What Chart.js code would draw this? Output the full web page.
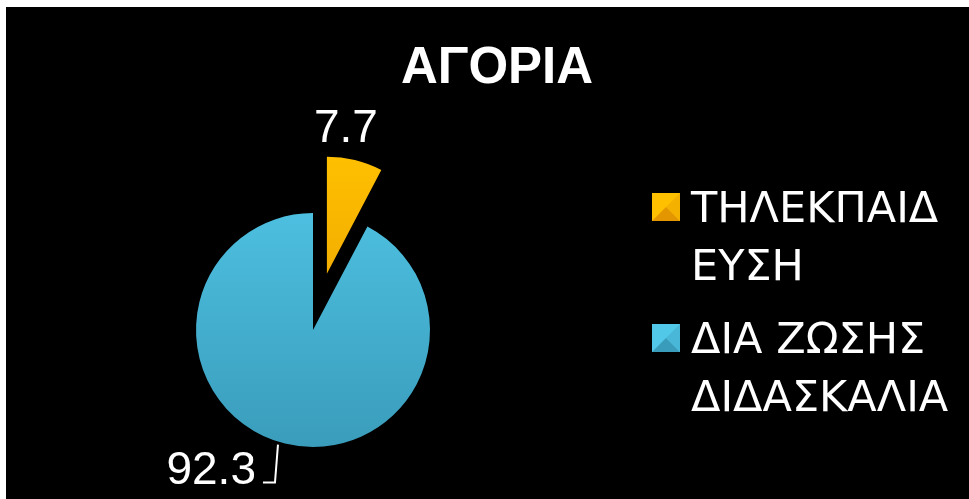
<!DOCTYPE html>
<html>
<head>
<meta charset="utf-8">
<script src="https://cdn.jsdelivr.net/npm/chart.js@4.4.1/dist/chart.umd.min.js"></script>
<style>
html, body { margin: 0; padding: 0; background: #fff; }
.frame { position: absolute; left: 6px; top: 7px; width: 963px; height: 492px; background: #000; }
</style>
</head>
<body>
<div class="frame"><canvas id="pieChart" style="width:963px;height:492px"></canvas></div>
<script>
// Chart data
const chartTitle = 'ΑΓΟΡΙΑ';
const categories = ['ΤΗΛΕΚΠΑΙΔΕΥΣΗ', 'ΔΙΑ ΖΩΣΗΣ ΔΙΔΑΣΚΑΛΙΑ'];
const values = [7.7, 92.3];
const valueLabels = ['7.7', '92.3'];

// Styles
const sliceColors = [['#FFC000', '#E39600'], ['#52C8E9', '#3A9CBB']];
const EXPLODE = 58;
const labelOffsets = [
    { dx: -9, dy: -18, align: 'center', leader: null },
    { dx: -29, dy: 40, align: 'right', leader: [[-7, 1], [-10, 39], [-22, 39]] }
];

// Push the first slice out from the centre
const explodePlugin = {
    id: 'explode',
    afterDatasetsUpdate(chart) {
        const arc = chart.getDatasetMeta(0).data[0];
        const mid = (arc.startAngle + arc.endAngle) / 2;
        arc.x += Math.cos(mid) * EXPLODE;
        arc.y += Math.sin(mid) * EXPLODE;
    }
};

function wrapText(ctx, text, maxWidth) {
    const lines = [];
    let line = '';
    text.split(' ').forEach(word => {
        const test = line ? line + ' ' + word : word;
        if (ctx.measureText(test).width <= maxWidth) {
            line = test;
            return;
        }
        if (line) lines.push(line);
        line = '';
        for (const ch of word) {
            if (ctx.measureText(line + ch).width > maxWidth && line) {
                lines.push(line);
                line = ch;
            } else {
                line += ch;
            }
        }
    });
    if (line) lines.push(line);
    return lines;
}

// Title, value labels and legend
const textPlugin = {
    id: 'texts',
    afterDraw(chart) {
        const ctx = chart.ctx;
        ctx.save();
        ctx.fillStyle = '#fff';

        // title
        ctx.font = 'bold 51px "Liberation Sans", Arial, sans-serif';
        ctx.textAlign = 'center';
        ctx.textBaseline = 'alphabetic';
        ctx.fillText(chartTitle, 491, 76);

        // value labels
        ctx.font = '46px "Liberation Sans", Arial, sans-serif';
        chart.getDatasetMeta(0).data.forEach((arc, i) => {
            const mid = (arc.startAngle + arc.endAngle) / 2;
            const px = arc.x + Math.cos(mid) * arc.outerRadius;
            const py = arc.y + Math.sin(mid) * arc.outerRadius;
            const o = labelOffsets[i];
            if (o.leader) {
                ctx.strokeStyle = '#fff';
                ctx.lineWidth = 2;
                ctx.beginPath();
                o.leader.forEach(([lx, ly], k) => {
                    if (k === 0) ctx.moveTo(px + lx, py + ly);
                    else ctx.lineTo(px + lx, py + ly);
                });
                ctx.stroke();
            }
            ctx.textAlign = o.align;
            ctx.fillText(valueLabels[i], px + o.dx, py + o.dy);
        });

        // legend
        ctx.font = '43px "DejaVu Sans", sans-serif';
        ctx.textAlign = 'left';
        let baseline = 215;
        categories.forEach((cat, i) => {
            const sx = 646, sy = baseline - 29, s = 28;
            const [light, dark] = sliceColors[i];
            ctx.fillStyle = light;
            ctx.fillRect(sx, sy, s, s);
            // bevelled look: darker bottom and right faces
            ctx.fillStyle = dark;
            ctx.beginPath();
            ctx.moveTo(sx, sy + s);
            ctx.lineTo(sx + s / 2, sy + s / 2);
            ctx.lineTo(sx + s, sy + s);
            ctx.closePath();
            ctx.fill();
            ctx.globalAlpha = 0.35;
            ctx.beginPath();
            ctx.moveTo(sx + s, sy);
            ctx.lineTo(sx + s / 2, sy + s / 2);
            ctx.lineTo(sx + s, sy + s);
            ctx.closePath();
            ctx.fill();
            ctx.globalAlpha = 1;

            ctx.fillStyle = '#fff';
            const lines = wrapText(ctx, cat, 265);
            lines.forEach((ln, k) => ctx.fillText(ln, 685, baseline + k * 58));
            baseline += 131;
        });
        ctx.restore();
    }
};

function sliceGradient(context) {
    const { chart, dataIndex } = context;
    const area = chart.chartArea;
    if (!area) return sliceColors[dataIndex][0];
    const cy = (area.top + area.bottom) / 2;
    const g = chart.ctx.createLinearGradient(0, cy - 180, 0, cy + 120);
    g.addColorStop(0, sliceColors[dataIndex][0]);
    g.addColorStop(1, sliceColors[dataIndex][1]);
    return g;
}

const pieChart = new Chart(document.getElementById('pieChart'), {
    type: 'pie',
    data: {
        labels: categories,
        datasets: [{
            data: values,
            backgroundColor: sliceGradient,
            borderWidth: 0,
            radius: 117
        }]
    },
    options: {
        responsive: false,
        animation: false,
        events: [],
        layout: {
            padding: { left: 157, right: 506, top: 173, bottom: 19 }
        },
        plugins: {
            legend: { display: false },
            title: { display: false },
            tooltip: { enabled: false }
        }
    },
    plugins: [explodePlugin, textPlugin]
});
</script>
</body>
</html>
